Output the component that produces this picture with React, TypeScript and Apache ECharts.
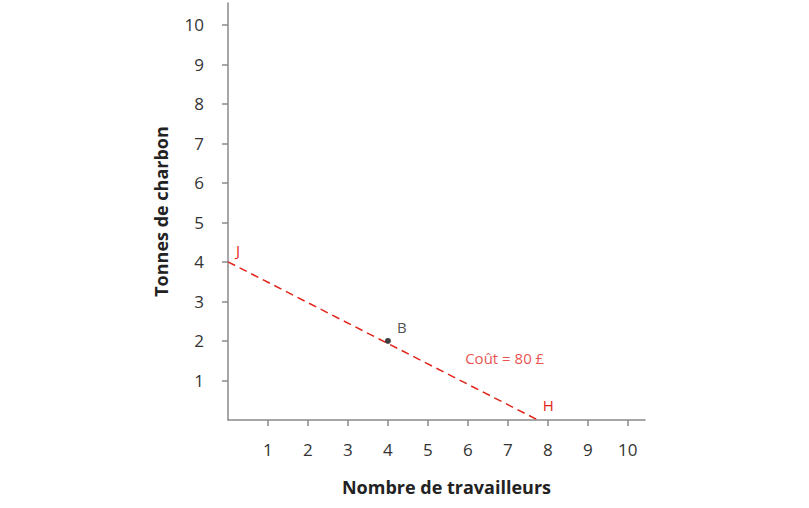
import React, { useEffect, useRef } from "react";
import * as echarts from "echarts";

const xTicks = [1, 2, 3, 4, 5, 6, 7, 8, 9, 10];
const yTicks = [1, 2, 3, 4, 5, 6, 7, 8, 9, 10];
const costLine: [number, number][] = [
  [0, 4],
  [7.75, 0],
];
const pointB: [number, number] = [4, 2];
const costLabelPos: [number, number] = [6.92, 1.58];
const xTitle = "Nombre de travailleurs";
const yTitle = "Tonnes de charbon";

const RED = "#e2231a";
const FONT = "'Open Sans', 'Noto Sans', sans-serif";

export default function App() {
  const ref = useRef<HTMLDivElement>(null);
  useEffect(() => {
    if (!ref.current) return;
    const chart = echarts.init(ref.current, undefined, { renderer: "svg" });
    const redLabel = { color: RED, fontSize: 15, fontFamily: FONT, fontWeight: 500 };
    chart.setOption({
      animation: false,
      textStyle: { fontFamily: FONT },
      grid: { left: 228, right: 164, top: 3, bottom: 88, containLabel: false },
      xAxis: {
        type: "value",
        min: 0,
        max: 10.43,
        interval: 1,
        splitLine: { show: false },
        axisLine: { lineStyle: { color: "#8a8a8a", width: 1.5 } },
        axisTick: { show: true, length: 6, customValues: xTicks, lineStyle: { color: "#8a8a8a", width: 1.5 } },
        axisLabel: { customValues: xTicks, margin: 21, fontSize: 17, color: "#333", fontFamily: FONT },
        name: xTitle,
        nameLocation: "middle",
        nameGap: 58,
        nameTextStyle: { fontSize: 18, fontWeight: "bold", color: "#222", fontFamily: FONT, padding: [0, 0, 0, 20] },
      },
      yAxis: {
        type: "value",
        min: 0,
        max: 10.55,
        interval: 1,
        splitLine: { show: false },
        axisLine: { lineStyle: { color: "#8a8a8a", width: 1.5 } },
        axisTick: { show: true, length: 6, customValues: yTicks, lineStyle: { color: "#8a8a8a", width: 1.5 } },
        axisLabel: { customValues: yTicks, margin: 24, fontSize: 17, color: "#333", fontFamily: FONT },
        name: yTitle,
        nameLocation: "middle",
        nameGap: 58,
        nameTextStyle: { fontSize: 18, fontWeight: "bold", color: "#222", fontFamily: FONT },
      },
      series: [
        {
          type: "line",
          data: [
            { value: costLine[0], label: { ...redLabel, show: true, formatter: "J", position: "right", offset: [3, -12] } },
            { value: costLine[1], label: { ...redLabel, show: true, formatter: "H", position: "right", offset: [0, -15] } },
          ],
          showSymbol: true,
          symbol: "circle",
          symbolSize: 0,
          clip: false,
          lineStyle: { color: RED, width: 1.5, type: [8, 5] },
          itemStyle: { color: RED },
          label: redLabel,
          z: 2,
        },
        {
          type: "scatter",
          data: [pointB],
          symbol: "circle",
          symbolSize: 6,
          itemStyle: { color: "#111" },
          label: { show: true, formatter: "B", position: "right", offset: [1, -14], color: "#222", fontSize: 15, fontFamily: FONT, fontWeight: 500 },
          z: 3,
        },
        {
          type: "scatter",
          data: [costLabelPos],
          symbol: "circle",
          symbolSize: 0,
          itemStyle: { color: RED },
          label: { ...redLabel, show: true, formatter: "Coût = 80 £", position: "inside" },
          z: 3,
        },
      ],
    });
    return () => chart.dispose();
  }, []);
  return <div ref={ref} style={{ position: "absolute", left: 0, top: 0, width: 809, height: 508 }} />;
}
